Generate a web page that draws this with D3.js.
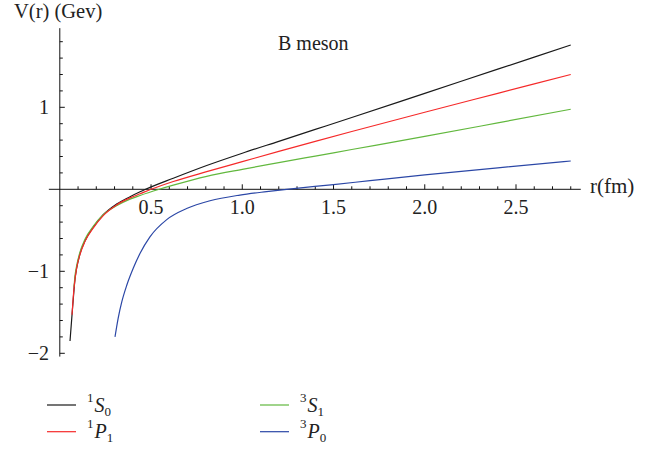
<!DOCTYPE html>
<html><head><meta charset="utf-8">
<script src="https://cdn.jsdelivr.net/npm/d3@7"></script>
<style>body{margin:0;background:#fff}svg{display:block}text{font-family:"Liberation Serif","DejaVu Serif",serif;fill:#222}</style>
</head><body><svg id="c" width="654" height="451"></svg>
<script>
// r (fm) and V(r) (GeV)
const rS0 = [0.056,0.067,0.078,0.083,0.0925,0.11,0.138,0.184,0.238,0.311,0.385,0.44,0.47,0.622,0.805,1.0,1.2,1.4,1.6,2.0,2.4,2.8];
const vS0 = [-1.85,-1.53,-1.22,-1.10,-0.96,-0.79,-0.63,-0.46,-0.31,-0.18,-0.09,-0.03,0.0,0.135,0.29,0.44,0.585,0.73,0.875,1.17,1.465,1.76];
const rP1 = [0.067,0.078,0.0925,0.11,0.138,0.184,0.238,0.311,0.385,0.44,0.5,0.622,0.805,1.0,1.2,1.4,1.6,2.0,2.4,2.8];
const vP1 = [-1.53,-1.20,-0.96,-0.80,-0.635,-0.47,-0.32,-0.19,-0.105,-0.055,0.0,0.095,0.215,0.337,0.462,0.585,0.705,0.94,1.17,1.40];
const rS1 = [0.078,0.083,0.0925,0.11,0.138,0.184,0.238,0.311,0.385,0.44,0.545,0.622,0.805,1.0,1.2,1.4,1.6,2.0,2.4,2.8];
const vS1 = [-1.19,-1.06,-0.93,-0.77,-0.61,-0.45,-0.31,-0.20,-0.12,-0.075,0.0,0.05,0.158,0.244,0.325,0.405,0.485,0.645,0.81,0.976];
const rP0 = [0.3025,0.32,0.34,0.367,0.403,0.44,0.494,0.586,0.695,0.823,0.987,1.133,1.243,1.5,1.7,2.0,2.4,2.8];
const vP0 = [-1.80,-1.57,-1.37,-1.17,-0.96,-0.78,-0.58,-0.37,-0.235,-0.14,-0.07,-0.028,0.0,0.058,0.105,0.175,0.262,0.345];
const xTickLabels = ["0.5","1.0","1.5","2.0","2.5"];
const yTickLabels = ["−2","−1","1"];

const svg = d3.select("#c");
const x = d3.scaleLinear().domain([0, 2.5]).range([59.8, 516]);
const y = d3.scaleLinear().domain([-2, 1.8]).range([353.3, 41.7]);

const axisG = svg.append("g").attr("stroke","#111").attr("stroke-width",1);
axisG.append("line").attr("x1",x(-0.06)).attr("x2",x(2.855)).attr("y1",y(0)).attr("y2",y(0));
axisG.append("line").attr("x1",x(0)).attr("x2",x(0)).attr("y1",y(-2.04)).attr("y2",y(1.965));

const xt = d3.range(1, 29).map(i => i/10);
xt.forEach(v => {
  const major = Math.abs(v*2 - Math.round(v*2)) < 1e-6;
  axisG.append("line").attr("x1",x(v)).attr("x2",x(v)).attr("y1",y(0)).attr("y2",y(0)-(major?5:3));
});
const yt = d3.range(-10, 10).filter(i => i !== 0).map(i => i/5);
yt.forEach(v => {
  const major = Math.abs(v - Math.round(v)) < 1e-6;
  axisG.append("line").attr("x1",x(0)).attr("x2",x(0)+(major?5:3)).attr("y1",y(v)).attr("y2",y(v));
});

const xLabVals = [0.5,1.0,1.5,2.0,2.5];
svg.selectAll(".xl").data(xLabVals).enter().append("text")
  .attr("x", d => x(d)).attr("y", 214).attr("text-anchor","middle")
  .attr("font-size", 20).text((d,i) => xTickLabels[i]);
const yLabVals = [-2,-1,1];
svg.selectAll(".yl").data(yLabVals).enter().append("text")
  .attr("x", 49).attr("y", d => y(d)+6.5).attr("text-anchor","end")
  .attr("font-size", 20).text((d,i) => yTickLabels[i]);

svg.append("text").attr("x",14).attr("y",18).attr("font-size",20.5).text("V(r) (Gev)");
svg.append("text").attr("x",590).attr("y",193).attr("font-size",21).text("r(fm)");
svg.append("text").attr("x",278).attr("y",50).attr("font-size",20).text("B meson");

const colors = ["#1a1a1a","#f52a2a","#62b83e","#2b47a6"];
const data = [[rS0,vS0],[rP1,vP1],[rS1,vS1],[rP0,vP0]];
const line = d3.line().x(d => x(d[0])).y(d => y(d[1])).curve(d3.curveMonotoneX);
[0,2,1,3].forEach(i => {
  const pts = data[i][0].map((r,j) => [r, data[i][1][j]]);
  svg.append("path").attr("d", line(pts)).attr("fill","none")
    .attr("stroke", colors[i]).attr("stroke-width", 1.2);
});

const legend = [
  {sup:"1", L:"S", sub:"0", c:0, lx:47, ty:412, ly:405},
  {sup:"1", L:"P", sub:"1", c:1, lx:47, ty:438, ly:431.7},
  {sup:"3", L:"S", sub:"1", c:2, lx:260, ty:412, ly:405},
  {sup:"3", L:"P", sub:"0", c:3, lx:260, ty:438, ly:431.7}
];
legend.forEach(d => {
  svg.append("line").attr("x1",d.lx).attr("x2",d.lx+29).attr("y1",d.ly).attr("y2",d.ly)
    .attr("stroke",colors[d.c]).attr("stroke-width",1.2);
  const t = svg.append("text").attr("x", d.lx+40).attr("y", d.ty).attr("font-size",20);
  t.append("tspan").attr("font-size",13).attr("dy",-10).text(d.sup);
  t.append("tspan").attr("font-style","italic").attr("dy",10).attr("dx",1).text(d.L);
  t.append("tspan").attr("font-size",13).attr("dy",4).text(d.sub);
});
</script></body></html>
